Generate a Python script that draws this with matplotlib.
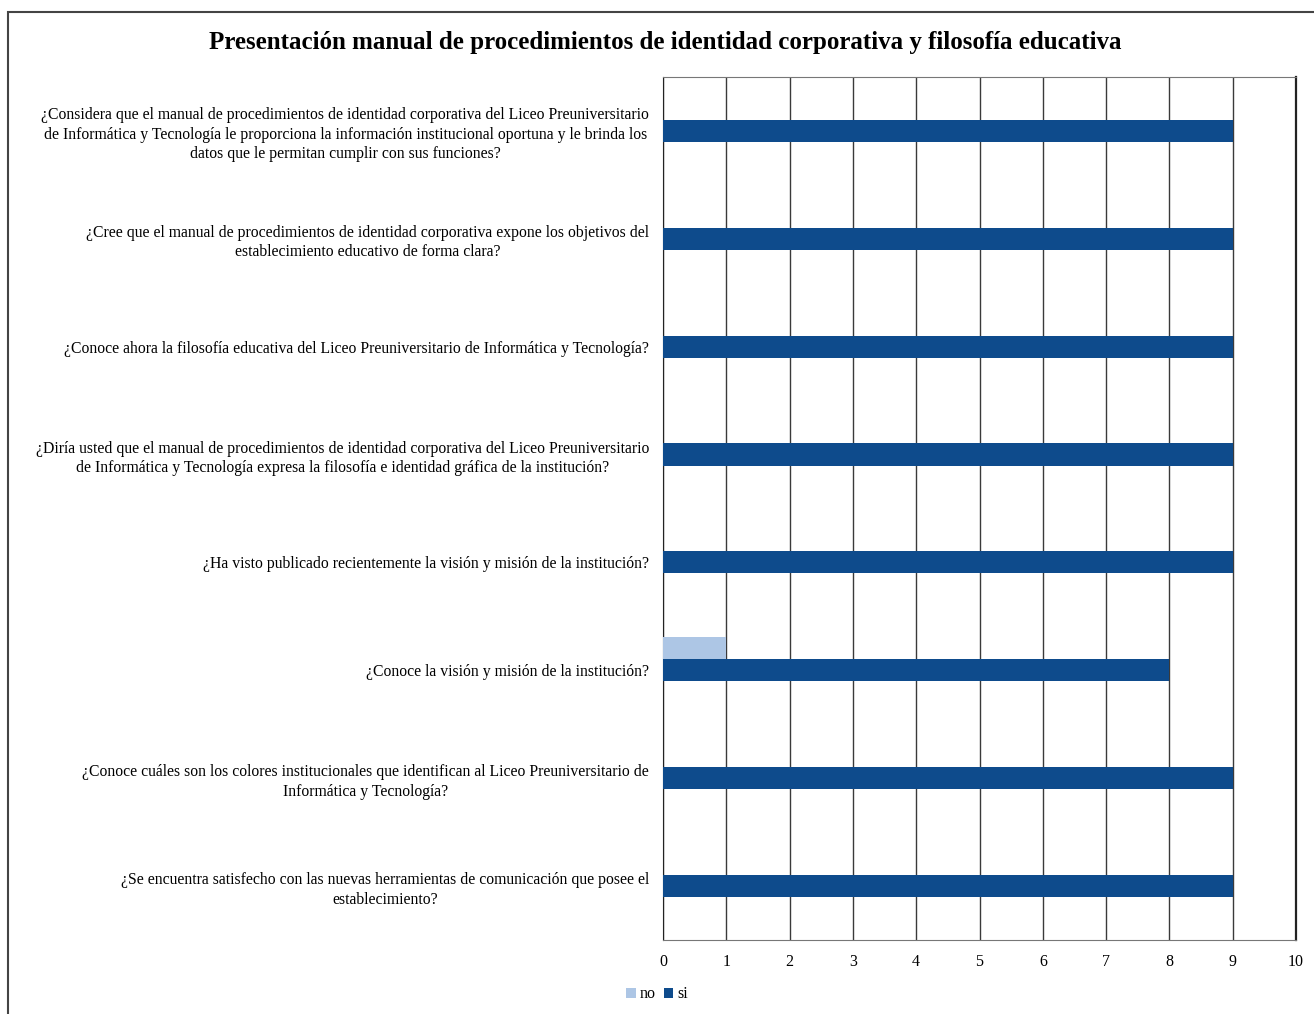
import matplotlib.pyplot as plt
from matplotlib.patches import Rectangle

plt.rcParams['font.family'] = ['Liberation Serif', 'DejaVu Serif']

# preguntas de la encuesta (de arriba hacia abajo)
preguntas = [
    "¿Considera que el manual de procedimientos de identidad corporativa del Liceo Preuniversitario\n"
    "de Informática y Tecnología le proporciona la información institucional oportuna y le brinda los\n"
    "datos que le permitan cumplir con sus funciones?",
    "¿Cree que el manual de procedimientos de identidad corporativa expone los objetivos del\n"
    "establecimiento educativo de forma clara?",
    "¿Conoce ahora la filosofía educativa del Liceo Preuniversitario de Informática y Tecnología?",
    "¿Diría usted que el manual de procedimientos de identidad corporativa del Liceo Preuniversitario\n"
    "de Informática y Tecnología expresa la filosofía e identidad gráfica de la institución?",
    "¿Ha visto publicado recientemente la visión y misión de la institución?",
    "¿Conoce la visión y misión de la institución?",
    "¿Conoce cuáles son los colores institucionales que identifican al Liceo Preuniversitario de\n"
    "Informática y Tecnología?",
    "¿Se encuentra satisfecho con las nuevas herramientas de comunicación que posee el\n"
    "establecimiento?",
]
respuestas_si = [9, 9, 9, 9, 9, 8, 9, 9]
respuestas_no = [0, 0, 0, 0, 0, 1, 0, 0]

color_si = '#0E4B8C'
color_no = '#ADC6E5'

fig = plt.figure(figsize=(13.14, 10.14), dpi=100)
ax = fig.add_axes([0.5046, 0.073, 0.4817, 0.8511])

pos = list(range(len(preguntas)))
alto = 0.205
ax.barh(pos, respuestas_si, height=alto, color=color_si, label='si', zorder=3)
ax.barh([p - alto for p in pos], respuestas_no, height=alto, color=color_no, label='no', zorder=3)

ax.set_xlim(0, 10)
ax.set_ylim(len(preguntas) - 0.5, -0.5)
ax.set_xticks(range(11))
ax.tick_params(axis='x', length=0, pad=10, labelsize=11.5)
ax.tick_params(axis='y', length=0, pad=10)
ax.set_yticks(pos)
ax.set_yticklabels(preguntas, fontsize=11.3)
for t in ax.get_yticklabels():
    t.set_multialignment('center')
    t.set_linespacing(1.3)

ax.grid(axis='x', color='#3a3a3a', linewidth=1.0, zorder=1)
for lado in ['top', 'bottom']:
    ax.spines[lado].set_color('#777777')
ax.spines['left'].set_color('#222222')
ax.spines['right'].set_color('#222222')
ax.spines['right'].set_linewidth(1.6)

fig.text(0.506, 0.958, 'Presentación manual de procedimientos de identidad corporativa y filosofía educativa',
         ha='center', va='center', fontsize=18, fontweight='bold')

h, l = ax.get_legend_handles_labels()
fig.legend(h[::-1], l[::-1], loc='center', bbox_to_anchor=(0.5, 0.0195), ncol=2, frameon=False,
           fontsize=11.5, handlelength=0.6, handleheight=0.6, handletextpad=0.25, columnspacing=0.5)

# marco exterior
fig.patches.append(Rectangle((0.006, -0.01), 1.1, 0.998, transform=fig.transFigure,
                             fill=False, edgecolor='#444444', linewidth=1.5))

fig.savefig('out.png', dpi=100)
